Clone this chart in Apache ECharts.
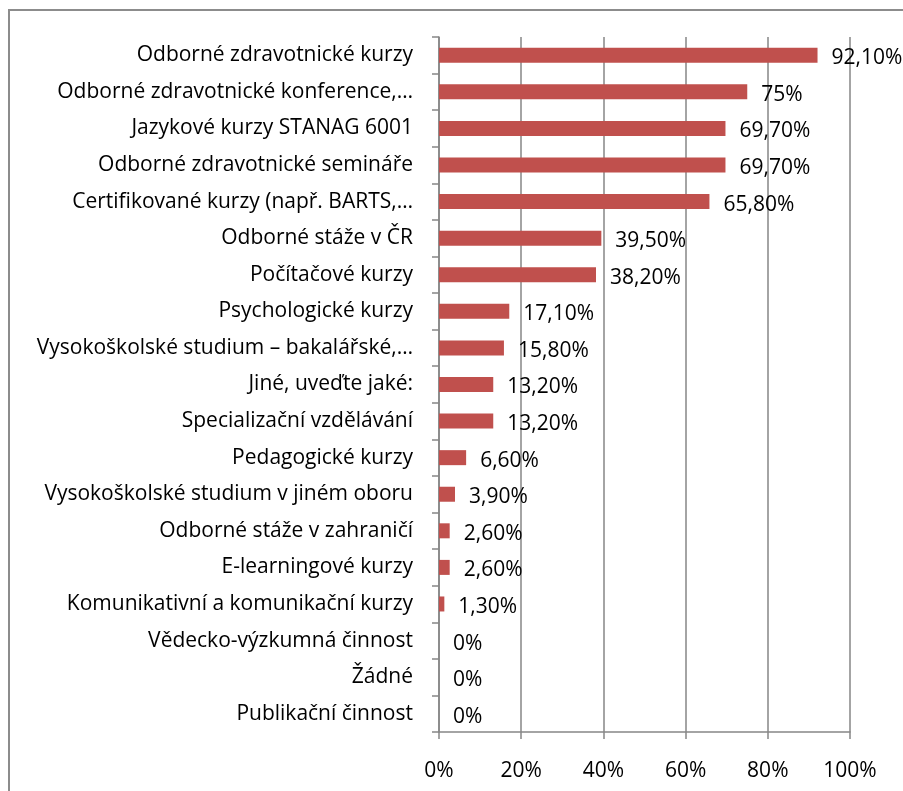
<!DOCTYPE html>
<html>
<head>
<meta charset="utf-8">
<script src="https://cdn.jsdelivr.net/npm/echarts@6/dist/echarts.min.js"></script>
<style>
html,body{margin:0;padding:0;background:#fff;}
#c{width:903px;height:791px;}
</style>
</head>
<body>
<div id="c"></div>
<script>
var categories = [
  "Odborné zdravotnické kurzy",
  "Odborné zdravotnické konference,…",
  "Jazykové kurzy STANAG 6001",
  "Odborné zdravotnické semináře",
  "Certifikované kurzy (např. BARTS,…",
  "Odborné stáže v ČR",
  "Počítačové kurzy",
  "Psychologické kurzy",
  "Vysokoškolské studium – bakalářské,…",
  "Jiné, uveďte jaké:",
  "Specializační vzdělávání",
  "Pedagogické kurzy",
  "Vysokoškolské studium v jiném oboru",
  "Odborné stáže v zahraničí",
  "E-learningové kurzy",
  "Komunikativní a komunikační kurzy",
  "Vědecko-výzkumná činnost",
  "Žádné",
  "Publikační činnost"
];
var values = [92.1, 75, 69.7, 69.7, 65.8, 39.5, 38.2, 17.1, 15.8, 13.2, 13.2, 6.6, 3.9, 2.6, 2.6, 1.3, 0, 0, 0];
var valueLabels = ["92,10%", "75%", "69,70%", "69,70%", "65,80%", "39,50%", "38,20%", "17,10%", "15,80%", "13,20%", "13,20%", "6,60%", "3,90%", "2,60%", "2,60%", "1,30%", "0%", "0%", "0%"];
var tickLabels = ["0%", "20%", "40%", "60%", "80%", "100%"];

var FONT = "Open Sans";
var chart = echarts.init(document.getElementById('c'), null, {renderer: 'canvas'});
chart.setOption({
  animation: false,
  backgroundColor: '#ffffff',
  graphic: [{
    type: 'rect',
    shape: {x: 9, y: 10, width: 1000, height: 1000},
    style: {fill: 'none', stroke: '#8c8c8c', lineWidth: 2},
    silent: true
  }],
  grid: {left: 439, right: 53, top: 37, bottom: 59, containLabel: false},
  xAxis: {
    type: 'value',
    min: 0, max: 100, interval: 20,
    axisLine: {show: true, lineStyle: {color: '#868686', width: 1.5}},
    axisTick: {show: true, length: 7, lineStyle: {color: '#868686', width: 1.5}},
    splitLine: {show: true, lineStyle: {color: '#868686', width: 1.5}},
    axisLabel: {
      margin: 29,
      color: '#000', fontFamily: FONT, fontSize: 21,
      formatter: function (v) { return tickLabels[Math.round(v / 20)]; }
    }
  },
  yAxis: {
    type: 'category',
    inverse: true,
    data: categories,
    axisLine: {show: true, lineStyle: {color: '#868686', width: 1.5}},
    axisTick: {show: true, length: 7, alignWithLabel: false, lineStyle: {color: '#868686', width: 1.5}},
    axisLabel: {margin: 26, color: '#000', fontFamily: FONT, fontSize: 21}
  },
  series: [{
    type: 'bar',
    data: values,
    barWidth: 15,
    itemStyle: {color: '#C0504D'},
    label: {
      show: true,
      position: 'right',
      distance: 14,
      offset: [0, 3],
      color: '#000', fontFamily: FONT, fontSize: 21,
      formatter: function (p) { return valueLabels[p.dataIndex]; }
    }
  }]
});
</script>
</body>
</html>
